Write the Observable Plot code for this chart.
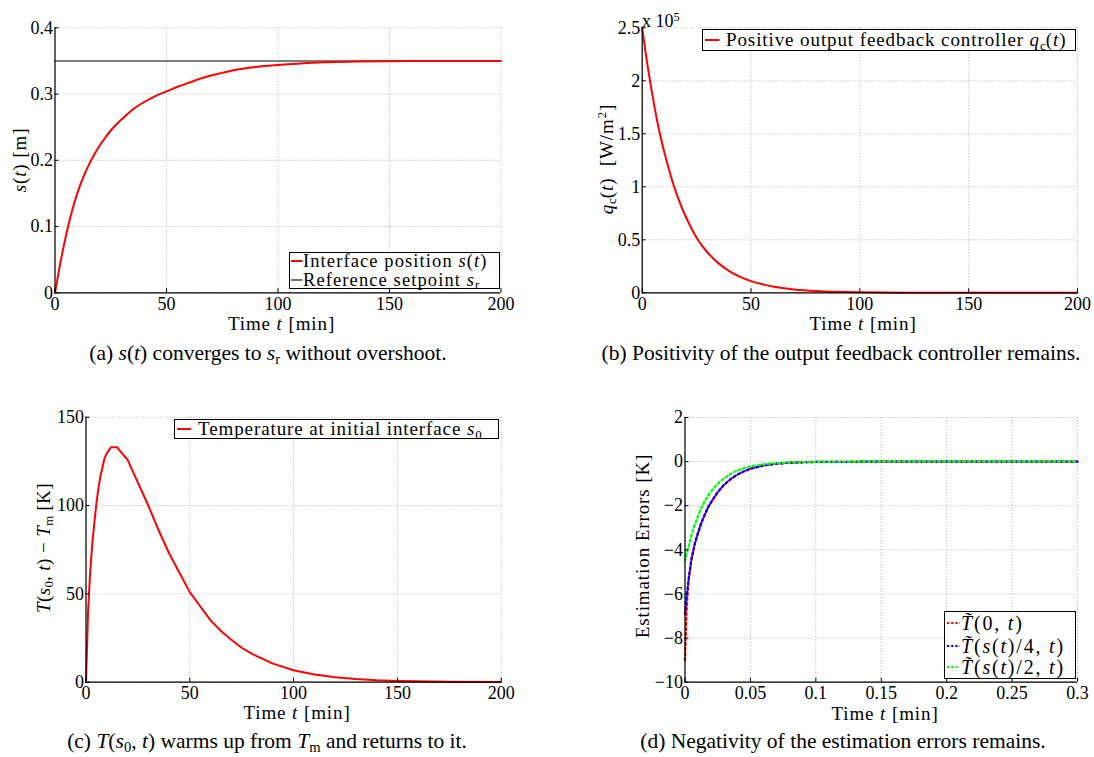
<!DOCTYPE html>
<html><head><meta charset="utf-8">
<script src="https://cdn.jsdelivr.net/npm/d3@7"></script>
<script src="https://cdn.jsdelivr.net/npm/@observablehq/plot@0.6"></script>
<style>
html,body{margin:0;padding:0;background:#fff;}
#root{position:relative;width:1094px;height:757px;overflow:hidden;background:#fff;font-family:"Liberation Serif","Times New Roman",serif;color:#000;}
.abs{position:absolute;white-space:nowrap;line-height:1;}
.cm{font-size:19px;letter-spacing:0.9px;}
.cma{font-size:18.5px;letter-spacing:1.1px;}
.cmd{font-size:20px;letter-spacing:1.8px;}
.cap{font-size:21.5px;}
.sub{font-size:0.68em;vertical-align:-0.28em;line-height:0;letter-spacing:0;}
.sup{font-size:0.68em;vertical-align:0.5em;line-height:0;}
.ylab{transform:translate(-50%,-50%) rotate(-90deg);}
.center{transform:translate(-50%,-50%);}
.legend{position:absolute;border:1.4px solid #000;background:#fff;box-sizing:border-box;}
.plotwrap{position:absolute;}
.plotwrap svg{overflow:visible;}
</style></head><body><div id="root"></div>
<script>
// ---------- data ----------
// (a) interface position s(t) [m]
const tA = [0,2,4,6,8,10,12.5,15,17.5,20,22.5,25,27.5,30,35,40,45,50,55,60,65,70,75,80,90,100,110,120,135,150,175,200];
const sA = [0,0.038,0.072,0.102,0.128,0.150,0.173,0.192,0.208,0.222,0.234,0.245,0.254,0.262,0.277,0.288,0.297,0.304,0.311,0.317,0.323,0.328,0.332,0.336,0.341,0.344,0.346,0.348,0.349,0.3495,0.35,0.35];
const setpointA = 0.35;
const xTicksA = [0,50,100,150,200];
const yTicksA = [0,0.1,0.2,0.3,0.4];

// (b) controller q_c(t) [x 10^5 W/m^2]
const tB = [0,2.5,5,7.5,10,12.5,15,17.5,20,25,30,35,40,45,50,60,70,80,90,100,120,150,200];
const qB = [2.5,2.14,1.83,1.56,1.34,1.15,0.98,0.84,0.72,0.52,0.38,0.28,0.205,0.15,0.11,0.06,0.032,0.017,0.009,0.005,0.0015,0.0003,0];
const xTicksB = [0,50,100,150,200];
const yTicksB = [0,0.5,1,1.5,2,2.5];

// (c) T(s0,t) - Tm [K]
const tC = [0,1,2,3,4,5,6,7,8,9,10,12,15,17,20,25,30,35,40,45,50,55,60,65,70,75,80,90,100,110,120,130,140,150,175,200];
const TC = [0,40,62,78,90,101,110,117,122,127,129.5,133,133,130,126,113,100,86,73,62,51,43,35,29,24,19.5,16,10.5,6.8,4.3,2.8,1.8,1.1,0.7,0.2,0.05];
const xTicksC = [0,50,100,150,200];
const yTicksC = [0,50,100,150];

// (d) estimation errors [K]
const tD = [0,0.001,0.002,0.003,0.005,0.0075,0.01,0.0125,0.015,0.0175,0.02,0.025,0.03,0.035,0.04,0.045,0.05,0.06,0.07,0.08,0.09,0.1,0.15,0.2,0.25,0.3];
const eD0 = [-9.0,-7.0,-6.0,-5.3,-4.4,-3.75,-3.25,-2.8,-2.45,-2.1,-1.85,-1.4,-1.05,-0.8,-0.6,-0.45,-0.33,-0.18,-0.1,-0.05,-0.03,-0.015,0,0,0,0];
const eD4 = [-6.9,-6.2,-5.7,-5.2,-4.4,-3.7,-3.2,-2.75,-2.4,-2.08,-1.82,-1.38,-1.03,-0.78,-0.58,-0.44,-0.32,-0.17,-0.09,-0.05,-0.03,-0.015,0,0,0,0];
const eD2 = [-4.5,-4.2,-4.0,-3.8,-3.3,-2.85,-2.45,-2.1,-1.8,-1.55,-1.35,-1.0,-0.75,-0.55,-0.4,-0.3,-0.22,-0.12,-0.07,-0.04,-0.02,-0.01,0,0,0,0];
const xTicksD = [0,0.05,0.1,0.15,0.2,0.25,0.3];
const yTicksD = [-10,-8,-6,-4,-2,0,2];

// ---------- helpers ----------
const root = document.getElementById("root");
const fmt = d => d < 0 ? "\u2212" + Math.abs(d) : String(d);

function panel({left, top, width, height, mL, mR, mT, mB, xDomain, yDomain, xTicks, yTicks, marks}) {
  const fw = width - mL - mR, fh = height - mT - mB;
  const gridStyle = {stroke: "#a8a8a8", strokeOpacity: 1, strokeDasharray: "1,2", strokeWidth: 0.9};
  const svg = Plot.plot({
    width, height, marginLeft: mL, marginRight: mR, marginTop: mT, marginBottom: mB,
    style: {fontFamily: "'Liberation Serif', serif", fontSize: "18px", color: "#000", background: "transparent", overflow: "visible"},
    x: {domain: xDomain, label: null},
    y: {domain: yDomain, label: null},
    marks: [
      Plot.gridX(xTicks, gridStyle),
      Plot.gridY(yTicks, gridStyle),
      ...marks,
      Plot.ruleX([xDomain[0]], {stroke: "#000", strokeWidth: 1.2}),
      Plot.ruleY([yDomain[0]], {stroke: "#000", strokeWidth: 1.2}),
      Plot.tickX(xTicks, {x: d => d, stroke: "#000", insetTop: fh - 4}),
      Plot.tickY(yTicks, {y: d => d, stroke: "#000", insetRight: fw - 4}),
      Plot.axisX(xTicks, {tickSize: 0, tickPadding: 4, tickFormat: fmt, label: null}),
      Plot.axisY(yTicks, {tickSize: 0, tickPadding: 2, tickFormat: fmt, label: null})
    ]
  });
  const wrap = document.createElement("div");
  wrap.className = "plotwrap";
  wrap.style.left = left + "px";
  wrap.style.top = top + "px";
  wrap.appendChild(svg);
  root.appendChild(wrap);
}

function text(html, x, y, cls, extra) {
  const d = document.createElement("div");
  d.className = "abs " + cls;
  d.style.left = x + "px";
  d.style.top = y + "px";
  if (extra) Object.assign(d.style, extra);
  d.innerHTML = html;
  root.appendChild(d);
  return d;
}

function legend(x1, y1, x2, y2, rows, cls = "cm") {
  const b = document.createElement("div");
  b.className = "legend";
  b.style.left = x1 + "px"; b.style.top = y1 + "px";
  b.style.width = (x2 - x1) + "px"; b.style.height = (y2 - y1) + "px";
  root.appendChild(b);
  for (const r of rows) {
    const s = document.createElementNS("http://www.w3.org/2000/svg", "svg");
    s.setAttribute("width", r.sx2 - r.sx1 + 2);
    s.setAttribute("height", 6);
    s.style.position = "absolute";
    s.style.left = (r.sx1 - 1) + "px";
    s.style.top = (r.y - 3) + "px";
    const l = document.createElementNS("http://www.w3.org/2000/svg", "line");
    l.setAttribute("x1", 1); l.setAttribute("x2", r.sx2 - r.sx1 + 1);
    l.setAttribute("y1", 3); l.setAttribute("y2", 3);
    l.setAttribute("stroke", r.color);
    l.setAttribute("stroke-width", r.width);
    if (r.dash) l.setAttribute("stroke-dasharray", r.dash);
    s.appendChild(l);
    root.appendChild(s);
    text(r.html, r.tx, r.y, cls, {transform: "translateY(-50%)", lineHeight: "0.9"});
  }
}

const sub = s => `<span class="sub">${s}</span>`;
const i = s => `<i>${s}</i>`;
const Tt = `<i>T&#x0303;</i>`;

// ---------- panel (a) ----------
panel({
  left: 0, top: 0, width: 547, height: 320, mL: 54.5, mR: 46.5, mT: 27.3, mB: 27.7,
  xDomain: [0, 200], yDomain: [0, 0.4], xTicks: xTicksA, yTicks: yTicksA,
  marks: [
    Plot.ruleY([setpointA], {x1: xTicksA[0], x2: xTicksA[xTicksA.length - 1], stroke: "#000", strokeWidth: 1.1}),
    Plot.line(tA.map((t, k) => ({t, v: sA[k]})), {x: "t", y: "v", stroke: "#ff0000", strokeWidth: 2, curve: "monotone-x"})
  ]
});
legend(289, 251.7, 500, 289.3, [
  {sx1: 290.5, sx2: 302, y: 261.3, color: "#ff0000", width: 2, html: `Interface position ${i("s")}(${i("t")})`, tx: 303},
  {sx1: 290.5, sx2: 302, y: 279.7, color: "#000", width: 1.1, html: `Reference setpoint ${i("s")}${sub("r")}`, tx: 303}
], "cma");
text(`${i("s")}(${i("t")}) [m]`, 19, 160, "cm ylab");
text(`Time ${i("t")} [min]`, 281.5, 323, "cm center");
text(`(a) ${i("s")}(${i("t")}) converges to ${i("s")}${sub("r")} without overshoot.`, 268, 353.5, "cap center");

// ---------- panel (b) ----------
panel({
  left: 547, top: 0, width: 547, height: 320, mL: 94.7, mR: 17, mT: 27.3, mB: 27.7,
  xDomain: [0, 200], yDomain: [0, 2.5], xTicks: xTicksB, yTicks: yTicksB,
  marks: [
    Plot.line(tB.map((t, k) => ({t, v: qB[k]})), {x: "t", y: "v", stroke: "#ff0000", strokeWidth: 2, curve: "monotone-x"})
  ]
});
legend(702, 29.3, 1075.5, 51, [
  {sx1: 705, sx2: 719.5, y: 40, color: "#ff0000", width: 2, html: `Positive output feedback controller ${i("q")}${sub("c")}(${i("t")})`, tx: 726}
]);
text(`x 10<span class="sup">5</span>`, 642, 12, "", {fontSize: "18px"});
text(`${i("q")}${sub("c")}(${i("t")}) &nbsp;[W/m<span class="sup">2</span>]`, 606, 159, "cm ylab");
text(`Time ${i("t")} [min]`, 863, 323, "cm center");
text(`(b) Positivity of the output feedback controller remains.`, 841, 353.5, "cap center");

// ---------- panel (c) ----------
panel({
  left: 0, top: 380, width: 547, height: 320, mL: 85.5, mR: 46.3, mT: 36.7, mB: 18.3,
  xDomain: [0, 200], yDomain: [0, 150], xTicks: xTicksC, yTicks: yTicksC,
  marks: [
    Plot.line(tC.map((t, k) => ({t, v: TC[k]})), {x: "t", y: "v", stroke: "#ff0000", strokeWidth: 2})
  ]
});
legend(173.5, 419.3, 498.5, 438.8, [
  {sx1: 177, sx2: 191, y: 429, color: "#ff0000", width: 2, html: `Temperature at initial interface ${i("s")}${sub("0")}`, tx: 198}
]);
text(`${i("T")}(${i("s")}${sub("0")}, ${i("t")}) &minus; ${i("T")}${sub("m")} [K]`, 43, 548, "cm ylab", {letterSpacing: "0.4px"});
text(`Time ${i("t")} [min]`, 297, 712, "cm center");
text(`(c) ${i("T")}(${i("s")}${sub("0")}, ${i("t")}) warms up from ${i("T")}${sub("m")} and returns to it.`, 267, 741.7, "cap center");

// ---------- panel (d) ----------
const dash = {strokeDasharray: "2.2,2.8", strokeWidth: 2.2};
panel({
  left: 547, top: 380, width: 547, height: 320, mL: 137.5, mR: 17, mT: 37, mB: 18.3,
  xDomain: [0, 0.3], yDomain: [-10, 2], xTicks: xTicksD, yTicks: yTicksD,
  marks: [
    Plot.line(tD.map((t, k) => ({t, v: eD0[k]})), {x: "t", y: "v", stroke: "#ff0000", ...dash}),
    Plot.line(tD.map((t, k) => ({t, v: eD4[k]})), {x: "t", y: "v", stroke: "#0000ff", ...dash}),
    Plot.line(tD.map((t, k) => ({t, v: eD2[k]})), {x: "t", y: "v", stroke: "#00ff00", ...dash})
  ]
});
legend(944, 610.7, 1075.5, 679, [
  {sx1: 947, sx2: 960, y: 623.3, color: "#ff0000", width: 2.2, dash: "2.2,2", html: `${Tt}(0, ${i("t")})`, tx: 961},
  {sx1: 947, sx2: 960, y: 645.7, color: "#0000ff", width: 2.2, dash: "2.2,2", html: `${Tt}(${i("s")}(${i("t")})/4, ${i("t")})`, tx: 961},
  {sx1: 947, sx2: 960, y: 667.3, color: "#00ff00", width: 2.2, dash: "2.2,2", html: `${Tt}(${i("s")}(${i("t")})/2, ${i("t")})`, tx: 961}
], "cmd");
text(`Estimation Errors [K]`, 641.7, 546, "cm ylab");
text(`Time ${i("t")} [min]`, 885, 713, "cm center");
text(`(d) Negativity of the estimation errors remains.`, 843, 741.7, "cap center");
</script></body></html>
